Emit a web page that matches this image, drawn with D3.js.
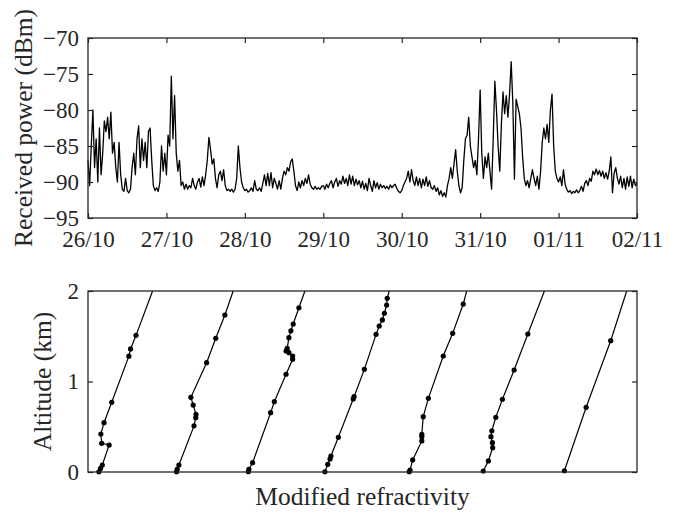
<!DOCTYPE html>
<html>
<head>
<meta charset="utf-8">
<script src="https://cdn.jsdelivr.net/npm/d3@7"></script>
</head>
<body style="margin:0; background:#fff">
<svg id="chart" width="676" height="513"></svg>
<script>
// received power, one value every 30 min, one array per day (dBm)
var power26 = [-87,-90.5,-85,-80,-88,-84,-90,-82.5,-89,-86,-81.5,-83,-81,-84,-80.3,-86,-84.5,-88,-90,-84.5,-89,-91,-91.3,-89.5,-91.2,-91.5,-91,-88,-86,-89,-84,-82.2,-88,-84,-87,-84.5,-88,-83,-82.5,-87,-90.5,-91.2,-90.8,-91.3,-90,-85,-88.5,-86];
var power27 = [-89,-83.5,-85,-75.3,-84,-78,-86,-88.5,-87,-90.5,-90,-91,-90.3,-91,-90.5,-90.8,-89.5,-90.5,-91,-90,-89.5,-90.7,-89.3,-90.5,-89,-87,-83.8,-85.5,-87.5,-86.8,-89.5,-90.8,-89,-88.5,-89.8,-88.3,-90.5,-91.2,-91,-91.3,-91,-91.4,-91,-89.5,-85,-88,-90,-90.8];
var power28 = [-91.2,-91,-91.4,-91.2,-90.8,-91.3,-89.8,-91,-91.2,-90.8,-91.3,-90.2,-89,-90.5,-88.8,-90.5,-88.7,-90.8,-89.5,-90.2,-91,-89.8,-91,-89.5,-88.5,-89,-88,-88.5,-87.2,-86.8,-88.5,-90.5,-91.2,-90,-90.8,-89.8,-90.5,-89.5,-90.2,-89,-90.3,-90.8,-91,-90.6,-91,-90.8,-91,-90.6];
var power29 = [-90.5,-91,-90.3,-90.8,-90.2,-89.8,-90.8,-90,-89.5,-90.6,-89.8,-90.3,-89.2,-90.2,-89.5,-90.5,-89,-90.3,-89.2,-90.5,-89.6,-90.4,-89.8,-90.8,-89.9,-91,-90.2,-91.2,-89.5,-90.5,-91.3,-89.8,-90.8,-90.1,-91,-90.3,-90.8,-90.5,-90.9,-90.6,-91,-90.4,-90.8,-90.5,-90.3,-90.9,-91.3,-91.5];
var power30 = [-91.2,-90.5,-90,-89.5,-88.5,-90,-88.3,-89.8,-90.5,-89.3,-90.5,-89.5,-90.8,-89.6,-90.5,-89.3,-90.6,-89.8,-90.8,-91,-90.5,-91.3,-90.8,-91.8,-91.2,-92,-91.5,-92.1,-90.5,-89.5,-88,-89.5,-87.5,-85.5,-88.5,-90.5,-91.5,-90.8,-87,-84,-83.5,-81,-85,-86.5,-88,-87,-89,-84];
var power31 = [-77.2,-86,-89.5,-86.5,-88,-86,-88.5,-91,-84,-76,-80,-85,-88.5,-82,-77.5,-80.5,-78,-81,-77.8,-73.3,-79,-89.6,-78.5,-79.5,-80.5,-82.5,-86.5,-89.5,-90.5,-89.8,-90.8,-89.5,-88.3,-89.5,-90.5,-89.2,-91,-88.5,-84.5,-82.5,-84,-82,-84.5,-80,-77.8,-85,-88.5,-89.5];
var power01 = [-90,-89.3,-90.5,-88.3,-90.3,-91,-91.4,-91.2,-91.6,-91.3,-91.5,-91.1,-91.5,-91.2,-90.6,-91.3,-90.2,-89.8,-90.5,-89.5,-89.9,-88.5,-89,-88.2,-89,-88.4,-89.2,-88.5,-89.5,-88.7,-89.6,-88.5,-86.5,-91.5,-88.8,-88,-89.5,-90.3,-89.2,-90.8,-89.5,-91,-89.3,-90.6,-89.2,-90.8,-89.6,-90.5,-90.2];

var powerTicks = [-95,-90,-85,-80,-75,-70];
var altTicks = [0,1,2];

// modified refractivity profiles (M units, offset per profile) and altitude (km)
var m1 = [38,44,50,74,48,45,56,83,143,149,168,226];
var alt1 = [0.003,0.04,0.077,0.298,0.317,0.42,0.545,0.77,1.28,1.36,1.51,2];
var m2 = [310,312,318,371,377,378,368,360,415,447,479,508];
var alt2 = [0.003,0.03,0.077,0.51,0.6,0.637,0.74,0.825,1.208,1.477,1.735,2];
var m3 = [561,563,576,639,652,693,716,716,703,693,697,703,710,718,738,759];
var alt3 = [0.003,0.03,0.103,0.655,0.777,1.08,1.245,1.282,1.318,1.337,1.366,1.484,1.56,1.635,1.815,2];
var m4 = [829,839,847,850,876,928,931,967,1008,1019,1030,1037,1045,1047,1054];
var alt4 = [0.003,0.085,0.144,0.177,0.383,0.807,0.832,1.134,1.521,1.613,1.68,1.754,1.845,1.919,2];
var m5 = [1124,1127,1136,1168,1168,1168,1173,1191,1243,1276,1313,1325];
var alt5 = [0.003,0.022,0.133,0.343,0.39,0.417,0.611,0.814,1.282,1.532,1.856,2];
var m6 = [1383,1401,1416,1415,1410,1413,1427,1450,1491,1539,1597];
var alt6 = [0.011,0.122,0.269,0.324,0.39,0.456,0.604,0.803,1.127,1.525,2];
var m7 = [1667,1743,1829,1885];
var alt7 = [0.014,0.715,1.451,2];

var ink = "#262626";
var serif = "'Liberation Serif'";
var svg = d3.select("#chart");

var left = 88, right = 637;
var top1 = 38, bot1 = 218;
var top2 = 291, bot2 = 472;

// ---------- top panel ----------
var start = new Date(2000, 9, 26);
var end = new Date(2000, 10, 2);
var power = [].concat(power26, power27, power28, power29, power30, power31, power01);
var series = power.map(function(v, i) {
  return { t: new Date(start.getTime() + i * 30 * 60 * 1000), v: v };
});

var x1 = d3.scaleTime().domain([start, end]).range([left, right]);
var y1 = d3.scaleLinear().domain([-95, -70]).range([bot1, top1]);

var g1 = svg.append("g");

g1.append("path")
  .datum(series)
  .attr("fill", "none")
  .attr("stroke", "#000")
  .attr("stroke-width", 1.3)
  .attr("stroke-linejoin", "round")
  .attr("d", d3.line().x(function(d){ return x1(d.t); }).y(function(d){ return y1(d.v); }));

var days = d3.timeDay.range(start, d3.timeDay.offset(end, 1));

g1.append("g").attr("transform", "translate(0," + bot1 + ")")
  .call(d3.axisBottom(x1).tickValues(days).tickFormat(d3.timeFormat("%d/%m")).tickSizeInner(-5).tickSizeOuter(0).tickPadding(13));
g1.append("g").attr("transform", "translate(0," + top1 + ")")
  .call(d3.axisTop(x1).tickValues(days).tickFormat("").tickSizeInner(-5).tickSizeOuter(0));
g1.append("g").attr("transform", "translate(" + left + ",0)")
  .call(d3.axisLeft(y1).tickValues(powerTicks).tickFormat(d3.format("d")).tickSizeInner(-5).tickSizeOuter(0).tickPadding(9));
g1.append("g").attr("transform", "translate(" + right + ",0)")
  .call(d3.axisRight(y1).tickValues(powerTicks).tickFormat("").tickSizeInner(-5).tickSizeOuter(0));

g1.append("text")
  .attr("transform", "translate(32," + (top1 + bot1) / 2 + ") rotate(-90)")
  .attr("text-anchor", "middle")
  .attr("font-size", 25.5)
  .attr("fill", ink)
  .text("Received power (dBm)");

// ---------- bottom panel ----------
var x2 = d3.scaleLinear().domain([0, 1921]).range([left, right]);
var y2 = d3.scaleLinear().domain([0, 2]).range([bot2, top2]);

var profiles = [[m1, alt1], [m2, alt2], [m3, alt3], [m4, alt4], [m5, alt5], [m6, alt6], [m7, alt7]];

var g2 = svg.append("g");

profiles.forEach(function(p) {
  var pts = p[0].map(function(m, i) { return { m: m, a: p[1][i] }; });
  g2.append("path")
    .datum(pts)
    .attr("fill", "none")
    .attr("stroke", "#000")
    .attr("stroke-width", 1.2)
    .attr("d", d3.line().x(function(d){ return x2(d.m); }).y(function(d){ return y2(d.a); }));
  g2.selectAll(null)
    .data(pts.filter(function(d){ return d.a < 2; }))
    .enter().append("circle")
    .attr("cx", function(d){ return x2(d.m); })
    .attr("cy", function(d){ return y2(d.a); })
    .attr("r", 2.6)
    .attr("fill", "#000");
});

g2.append("g").attr("transform", "translate(" + left + ",0)")
  .call(d3.axisLeft(y2).tickValues(altTicks).tickFormat(d3.format("d")).tickSizeInner(-5).tickSizeOuter(0).tickPadding(9));
g2.append("g").attr("transform", "translate(" + right + ",0)")
  .call(d3.axisRight(y2).tickValues(altTicks).tickFormat("").tickSizeInner(-5).tickSizeOuter(0));

g2.append("text")
  .attr("transform", "translate(51," + (top2 + bot2) / 2 + ") rotate(-90)")
  .attr("text-anchor", "middle")
  .attr("font-size", 25.5)
  .attr("fill", ink)
  .text("Altitude (km)");

g2.append("text")
  .attr("x", (left + right) / 2)
  .attr("y", 505)
  .attr("text-anchor", "middle")
  .attr("font-size", 25.5)
  .attr("fill", ink)
  .text("Modified refractivity");

// frames
[[top1, bot1], [top2, bot2]].forEach(function(b) {
  svg.append("rect")
    .attr("x", left).attr("y", b[0])
    .attr("width", right - left).attr("height", b[1] - b[0])
    .attr("fill", "none")
    .attr("stroke", ink)
    .attr("stroke-width", 1.3);
});

// axis styling
svg.selectAll(".domain").remove();
svg.selectAll(".tick line").attr("stroke", ink).attr("stroke-width", 1.2);
svg.selectAll(".tick text").attr("font-size", 23).attr("fill", ink);
svg.selectAll("text").style("font-family", serif);
</script>
</body>
</html>
